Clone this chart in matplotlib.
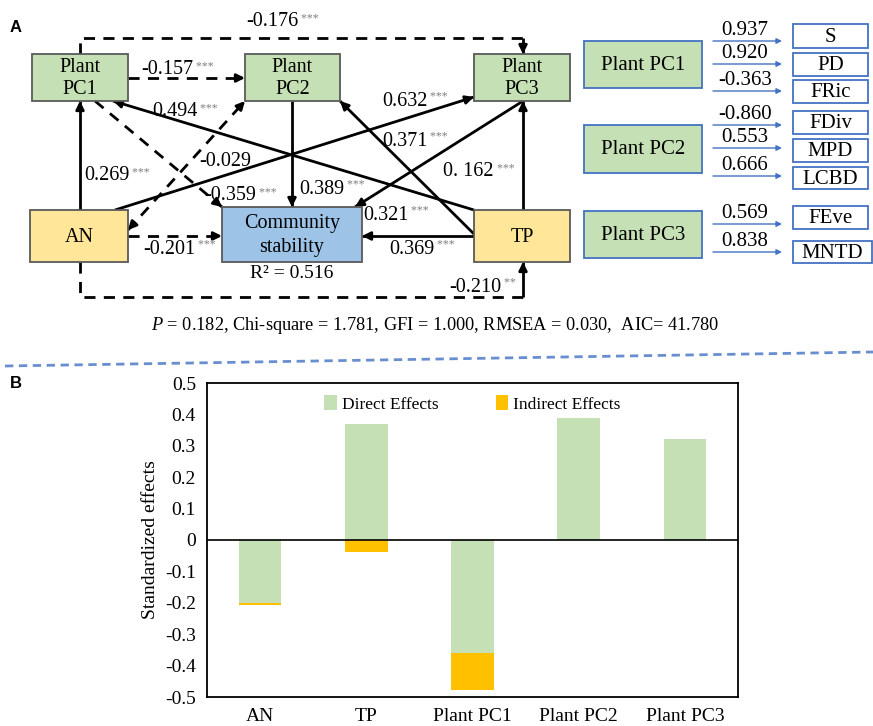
import numpy as np
import matplotlib.pyplot as plt
from matplotlib.patches import Rectangle

plt.rcParams['font.family'] = ['Liberation Serif', 'DejaVu Serif']
plt.rcParams['mathtext.fontset'] = 'custom'
plt.rcParams['mathtext.it'] = 'Liberation Serif:italic'
plt.rcParams['mathtext.rm'] = 'Liberation Serif'

# Panel B data
categories = ['AN', 'TP', 'Plant PC1', 'Plant PC2', 'Plant PC3']
direct_effects = [-0.201, 0.369, -0.359, 0.389, 0.321]
indirect_effects = [-0.005, -0.038, -0.120, 0.0, 0.0]
yticks = [0.5, 0.4, 0.3, 0.2, 0.1, 0, -0.1, -0.2, -0.3, -0.4, -0.5]
ytick_labels = ['0.5', '0.4', '0.3', '0.2', '0.1', '0', '-0.1', '-0.2', '-0.3', '-0.4', '-0.5']

# Panel A data (measurement model loadings)
pc_names = ['Plant PC1', 'Plant PC2', 'Plant PC3']
indicators = ['S', 'PD', 'FRic', 'FDiv', 'MPD', 'LCBD', 'FEve', 'MNTD']
loadings = ['0.937', '0.920', '-0.363', '-0.860', '0.553', '0.666', '0.569', '0.838']

# path coefficients: (value, stars)
coef_an_pc1 = ('0.269', '***')
coef_an_pc2 = ('-0.029', '')
coef_an_pc3 = ('0.632', '***')
coef_an_cs = ('-0.201', '***')
coef_an_tp = ('-0.210', '**')
coef_pc1_pc2 = ('-0.157', '***')
coef_pc1_pc3 = ('-0.176', '***')
coef_pc1_cs = ('-0.359', '***')
coef_pc2_cs = ('0.389', '***')
coef_pc3_cs = ('0.321', '***')
coef_tp_pc1 = ('0.494', '***')
coef_tp_pc2 = ('0.371', '***')
coef_tp_pc3 = ('0. 162', '***')
coef_tp_cs = ('0.369', '***')
r2 = '0.516'
fit_text = r'$\it{P}$ = 0.182, Chi-square = 1.781, GFI = 1.000, RMSEA = 0.030,  AIC= 41.780'

green = '#C5E0B4'
yellow = '#FFE699'
blue = '#9DC3E6'
orange = '#FFC000'
lineblue = '#4472C4'

fig = plt.figure(figsize=(8.73, 7.26), dpi=100)
ax = fig.add_axes([0, 0, 1, 1])
ax.set_xlim(0, 873)
ax.set_ylim(726, 0)
ax.axis('off')


def box(x0, y0, x1, y1, fc, txt, ec='#595959', fs=14.5, ls=1.2):
    ax.add_patch(Rectangle((x0, y0), x1 - x0, y1 - y0, fc=fc, ec=ec, lw=1.3, zorder=3))
    ax.text((x0 + x1) / 2, (y0 + y1) / 2 + 1, txt, ha='center', va='center',
            fontsize=fs, zorder=4, linespacing=ls)


def arrow(p0, p1, dashed=False, heads=(False, True), lw=2.0, color='k', ms=12):
    ls = (0, (4, 3)) if dashed else '-'
    ax.plot([p0[0], p1[0]], [p0[1], p1[1]], color=color, lw=lw, ls=ls, zorder=2,
            solid_capstyle='butt', dash_capstyle='butt')
    d = np.array(p1, float) - np.array(p0, float)
    u = d / np.hypot(*d)
    if heads[1]:
        ax.annotate('', xy=p1, xytext=tuple(np.array(p1) - u * 8),
                    arrowprops=dict(arrowstyle='-|>', color=color, lw=lw,
                                    mutation_scale=ms, shrinkA=0, shrinkB=0), zorder=2)
    if heads[0]:
        ax.annotate('', xy=p0, xytext=tuple(np.array(p0) + u * 8),
                    arrowprops=dict(arrowstyle='-|>', color=color, lw=lw,
                                    mutation_scale=ms, shrinkA=0, shrinkB=0), zorder=2)


def coef(x, y, c, fs=14.5):
    t = ax.text(x, y, c[0], ha='left', va='center', fontsize=fs, zorder=5)
    if c[1]:
        ax.annotate(' ' + c[1], xy=(1, 1.0), xycoords=t, ha='left', va='top',
                    fontsize=8.5, color='#7F7F7F', zorder=5)


# panel labels
ax.text(10, 28, 'A', fontsize=12, fontweight='bold', family='Liberation Sans', va='center')
ax.text(10, 383, 'B', fontsize=12, fontweight='bold', family='Liberation Sans', va='center')

# paths (drawn first, under boxes)
# PC1 -> PC3 (top loop)
ax.plot([80, 80, 523], [54, 38, 38], color='k', lw=2, ls=(0, (4, 3)), zorder=2)
arrow((523, 38), (523, 54), dashed=False)
# AN -> TP (bottom loop)
ax.plot([80, 80, 523], [262, 297, 297], color='k', lw=2, ls=(0, (4, 3)), zorder=2)
arrow((523, 297), (523, 262))
arrow((128, 78), (245, 78), dashed=True)               # PC1 -> PC2
arrow((80, 210), (80, 101))                              # AN -> PC1
arrow((128, 230), (245, 101), dashed=True, heads=(True, True))  # AN <-> PC2
arrow((115, 210), (474, 97))                             # AN -> PC3
arrow((95, 101), (222, 207), dashed=True)                # PC1 -> CS
arrow((474, 210), (113, 101))                            # TP -> PC1
arrow((292, 101), (292, 207))                            # PC2 -> CS
arrow((476, 236), (340, 101))                            # TP -> PC2
arrow((523, 101), (355, 207))                            # PC3 -> CS
arrow((474, 236), (362, 236))                            # TP -> CS
arrow((523, 210), (523, 101))                            # TP -> PC3
arrow((128, 236), (222, 236), dashed=True)               # AN -> CS

# boxes
box(32, 54, 128, 101, green, 'Plant\nPC1')
box(245, 54, 340, 101, green, 'Plant\nPC2')
box(474, 54, 570, 101, green, 'Plant\nPC3')
box(30, 210, 128, 262, yellow, 'AN')
box(222, 207, 362, 262, blue, 'Community\nstability', ls=1.3)
box(474, 210, 570, 262, yellow, 'TP')

# coefficients
coef(246, 22, coef_pc1_pc3)
coef(141, 70, coef_pc1_pc2)
coef(152, 112, coef_tp_pc1)
coef(382, 101, coef_an_pc3)
coef(382, 141, coef_tp_pc2)
coef(199, 162, coef_an_pc2)
coef(84, 176, coef_an_pc1)
coef(443, 172, coef_tp_pc3)
coef(204, 196, coef_pc1_cs)
coef(299, 189, coef_pc2_cs)
coef(363, 215, coef_pc3_cs)
coef(143, 249, coef_an_cs)
coef(389, 249, coef_tp_cs)
coef(449, 287, coef_an_tp)
ax.text(292, 273, 'R² = ' + r2, ha='center', va='center', fontsize=14)
ax.text(435, 326, fit_text, ha='center', va='center', fontsize=13.2)

# separator
ax.plot([5, 873], [366, 352], color=lineblue, lw=2, ls=(0, (3, 2)), alpha=0.8)

# measurement model
pc_y = [(41, 88), (125, 173), (211, 258)]
for name, (y0, y1) in zip(pc_names, pc_y):
    box(584, y0, 702, y1, green, name, ec=lineblue, fs=15)
ind_y = [(24, 48), (53, 76), (80, 103), (111, 134), (139, 162), (167, 189), (206, 229), (241, 263)]
arr_y = [41, 64, 91, 125, 148, 176, 224, 252]
for i, (name, (y0, y1), ay, ld) in enumerate(zip(indicators, ind_y, arr_y, loadings)):
    x1 = 868 if i < 7 else 872
    box(793, y0, x1, y1, 'white', name, ec=lineblue, fs=15)
    ax.annotate('', xy=(782, ay), xytext=(713, ay),
                arrowprops=dict(arrowstyle='-|>', color=lineblue, lw=1.0,
                                mutation_scale=8, shrinkA=0, shrinkB=0))
    ax.text(745, ay - 1, ld, ha='center', va='bottom', fontsize=15)

# panel B
bx = fig.add_axes([207 / 873, 1 - 697 / 726, 531 / 873, 314 / 726])
x = np.arange(len(categories))
direct = np.array(direct_effects)
indirect = np.array(indirect_effects)
bottom_ind = np.where(np.sign(indirect) == np.sign(direct), direct, 0)
bx.bar(x, direct, width=0.4, color=green, label='Direct Effects', zorder=2)
bx.bar(x, indirect, width=0.4, bottom=bottom_ind, color=orange, label='Indirect Effects', zorder=2)
bx.axhline(0, color='k', lw=1.2, zorder=3)
bx.set_xlim(-0.5, len(categories) - 0.5)
bx.set_ylim(-0.5, 0.5)
bx.set_yticks(yticks)
bx.set_yticklabels(ytick_labels, fontsize=14)
bx.set_xticks(x)
bx.set_xticklabels(categories, fontsize=14)
bx.tick_params(length=0, pad=8)
bx.set_ylabel('Standardized effects', fontsize=14, labelpad=4)
for s in bx.spines.values():
    s.set_linewidth(1.3)
bx.legend(loc='upper center', ncol=2, frameon=False, fontsize=12.5, handlelength=0.7,
          handleheight=0.9, handletextpad=0.3, columnspacing=3.3, bbox_to_anchor=(0.5, 1.01))

fig.savefig('out.png', dpi=100)
